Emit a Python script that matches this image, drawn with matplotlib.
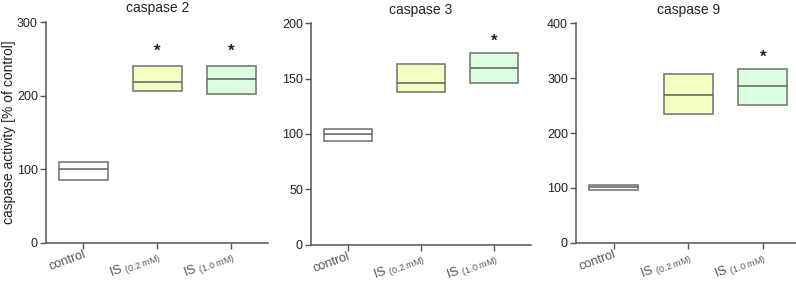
import matplotlib
matplotlib.use('Agg')
import matplotlib.pyplot as plt

plt.rcParams['font.family'] = ['Liberation Sans', 'DejaVu Sans']

#Group labels on the x axis
groups = ['control', r'IS $_\mathregular{(0.2\ mM)}$', r'IS $_\mathregular{(1.0\ mM)}$']
titles = ['caspase 2', 'caspase 3', 'caspase 9']

#Floating bars: min, median (line), max for each group
c2_low = [85, 206, 202]
c2_mid = [100, 219, 223]
c2_high = [109, 240, 240]

c3_low = [94, 138, 146]
c3_mid = [100, 146, 160]
c3_high = [104, 163, 173]

c9_low = [96, 234, 252]
c9_mid = [101, 269, 285]
c9_high = [106, 307, 316]

#Significance stars (None = no star)
c2_star = [None, 261, 261]
c3_star = [None, None, 184]
c9_star = [None, None, 338]

y_max = [300, 200, 400]
y_step = [100, 50, 100]

face_colors = ['white', '#f5ffc2', '#dcffe0']
edge_color = '#7a7a7a'
axis_color = '#555555'

fig = plt.figure(figsize=(7.96, 2.84), dpi=100)
boxes = [[0.058, 0.146, 0.279, 0.776],
         [0.391, 0.139, 0.276, 0.779],
         [0.724, 0.145, 0.281, 0.773]]

panels = [(c2_low, c2_mid, c2_high, c2_star),
          (c3_low, c3_mid, c3_high, c3_star),
          (c9_low, c9_mid, c9_high, c9_star)]

for i, (low, mid, high, star) in enumerate(panels):
    ax = fig.add_axes(boxes[i])
    x = range(len(groups))
    heights = [h - l for h, l in zip(high, low)]
    ax.bar(x, heights, bottom=low, width=0.66, color=face_colors,
           edgecolor=edge_color, linewidth=1.2, zorder=2)
    ax.hlines(mid, [k - 0.33 for k in x], [k + 0.33 for k in x],
              color='#606060', linewidth=1.1, zorder=3)
    for k, s in zip(x, star):
        if s is not None:
            ax.text(k, s, '*', ha='center', va='center', fontsize=12,
                    fontweight='bold', color='#222222')

    ax.set_xlim(-0.5, 2.5)
    ax.set_ylim(0, y_max[i])
    ax.set_yticks(range(0, y_max[i] + 1, y_step[i]))
    ax.set_xticks(list(x))
    ax.set_xticklabels(groups, rotation=20, ha='right', rotation_mode='anchor',
                       fontsize=9.2, color='#111111')
    ax.tick_params(axis='y', labelsize=9, colors=axis_color, labelcolor='#222222',
                   length=4, width=1, pad=2)
    ax.tick_params(axis='x', colors=axis_color, length=4, width=1, pad=0)
    for side in ['top', 'right']:
        ax.spines[side].set_visible(False)
    for side in ['left', 'bottom']:
        ax.spines[side].set_color(axis_color)
        ax.spines[side].set_linewidth(1.1)
    ax.set_title(titles[i], fontsize=10, color='#222222', pad=7)
    if i == 0:
        ax.set_ylabel('caspase activity [% of control]', fontsize=10,
                      color='#222222')
        ax.yaxis.set_label_coords(-0.135, 0.5)

fig.savefig('out.png', dpi=100)
